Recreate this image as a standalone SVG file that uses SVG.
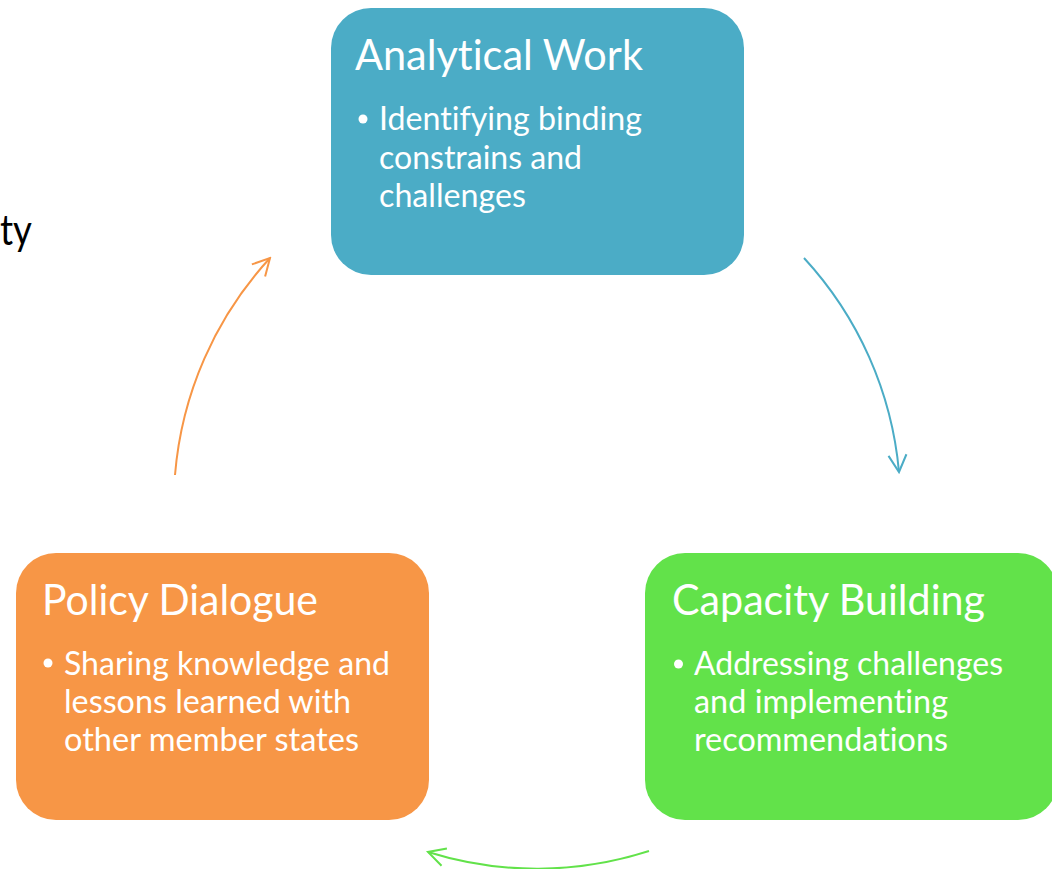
<svg xmlns="http://www.w3.org/2000/svg" width="1052" height="869" viewBox="0 0 1052 869">
<style>
text{font-variant-ligatures:none;font-feature-settings:"liga" 0,"dlig" 0}
.title{font-family:Lato,"Open Sans","Liberation Sans",sans-serif;font-size:42px;fill:#fff}
.body{font-family:Lato,"Open Sans","Liberation Sans",sans-serif;font-size:32px;fill:#fff}
.conn{fill:none;stroke-width:2}
</style>
<defs>
<marker id="aBlue" markerUnits="userSpaceOnUse" viewBox="-20 -11 22 22" refX="0" refY="0" markerWidth="22" markerHeight="22" orient="auto"><path d="M-17,-9 L0,0 L-17,9" fill="none" stroke="#4BACC6" stroke-width="2"/></marker>
<marker id="aGreen" markerUnits="userSpaceOnUse" viewBox="-20 -11 22 22" refX="0" refY="0" markerWidth="22" markerHeight="22" orient="auto"><path d="M-17,-9 L0,0 L-17,9" fill="none" stroke="#62E24A" stroke-width="2"/></marker>
<marker id="aOrange" markerUnits="userSpaceOnUse" viewBox="-20 -11 22 22" refX="0" refY="0" markerWidth="22" markerHeight="22" orient="auto"><path d="M-17,-9 L0,0 L-17,9" fill="none" stroke="#F79646" stroke-width="2"/></marker>
</defs>
<rect width="1052" height="869" fill="#fff"/>
<text x="32" y="245" text-anchor="end" font-family="Lato,'Open Sans','Liberation Sans',sans-serif" font-size="42" fill="#000" textLength="32" lengthAdjust="spacingAndGlyphs">ty</text>
<g id="connectors">
<path class="conn" stroke="#4BACC6" d="M804,258 A364,364 0 0 1 899,472" marker-end="url(#aBlue)"/>
<path class="conn" stroke="#62E24A" d="M649,851 A364,364 0 0 1 428,852" marker-end="url(#aGreen)"/>
<path class="conn" stroke="#F79646" d="M175,475 A364,364 0 0 1 270,258" marker-end="url(#aOrange)"/>
</g>
<g id="analytical-work">
<rect x="331" y="8" width="413" height="267" rx="40" fill="#4BACC6"/>
<text class="title" x="355" y="70" textLength="288" lengthAdjust="spacingAndGlyphs">Analytical Work</text>
<circle cx="363" cy="119" r="4.5" fill="#fff"/>
<text class="body" x="379" y="130" textLength="263" lengthAdjust="spacingAndGlyphs">Identifying binding</text>
<text class="body" x="379" y="168.5" textLength="203" lengthAdjust="spacingAndGlyphs">constrains and</text>
<text class="body" x="379" y="207" textLength="147" lengthAdjust="spacingAndGlyphs">challenges</text>
</g>
<g id="capacity-building">
<rect x="645" y="553" width="413" height="267" rx="40" fill="#62E24A"/>
<text class="title" x="672" y="615" textLength="313" lengthAdjust="spacingAndGlyphs">Capacity Building</text>
<circle cx="678.5" cy="664" r="4.5" fill="#fff"/>
<text class="body" x="694" y="675" textLength="309" lengthAdjust="spacingAndGlyphs">Addressing challenges</text>
<text class="body" x="694" y="713" textLength="254" lengthAdjust="spacingAndGlyphs">and implementing</text>
<text class="body" x="694" y="751" textLength="254" lengthAdjust="spacingAndGlyphs">recommendations</text>
</g>
<g id="policy-dialogue">
<rect x="16" y="553" width="413" height="267" rx="40" fill="#F79646"/>
<text class="title" x="42" y="615" textLength="276" lengthAdjust="spacingAndGlyphs">Policy Dialogue</text>
<circle cx="48" cy="663" r="4.5" fill="#fff"/>
<text class="body" x="64" y="675" textLength="326" lengthAdjust="spacingAndGlyphs">Sharing knowledge and</text>
<text class="body" x="64" y="713" textLength="287" lengthAdjust="spacingAndGlyphs">lessons learned with</text>
<text class="body" x="64" y="751" textLength="295" lengthAdjust="spacingAndGlyphs">other member states</text>
</g>
</svg>
